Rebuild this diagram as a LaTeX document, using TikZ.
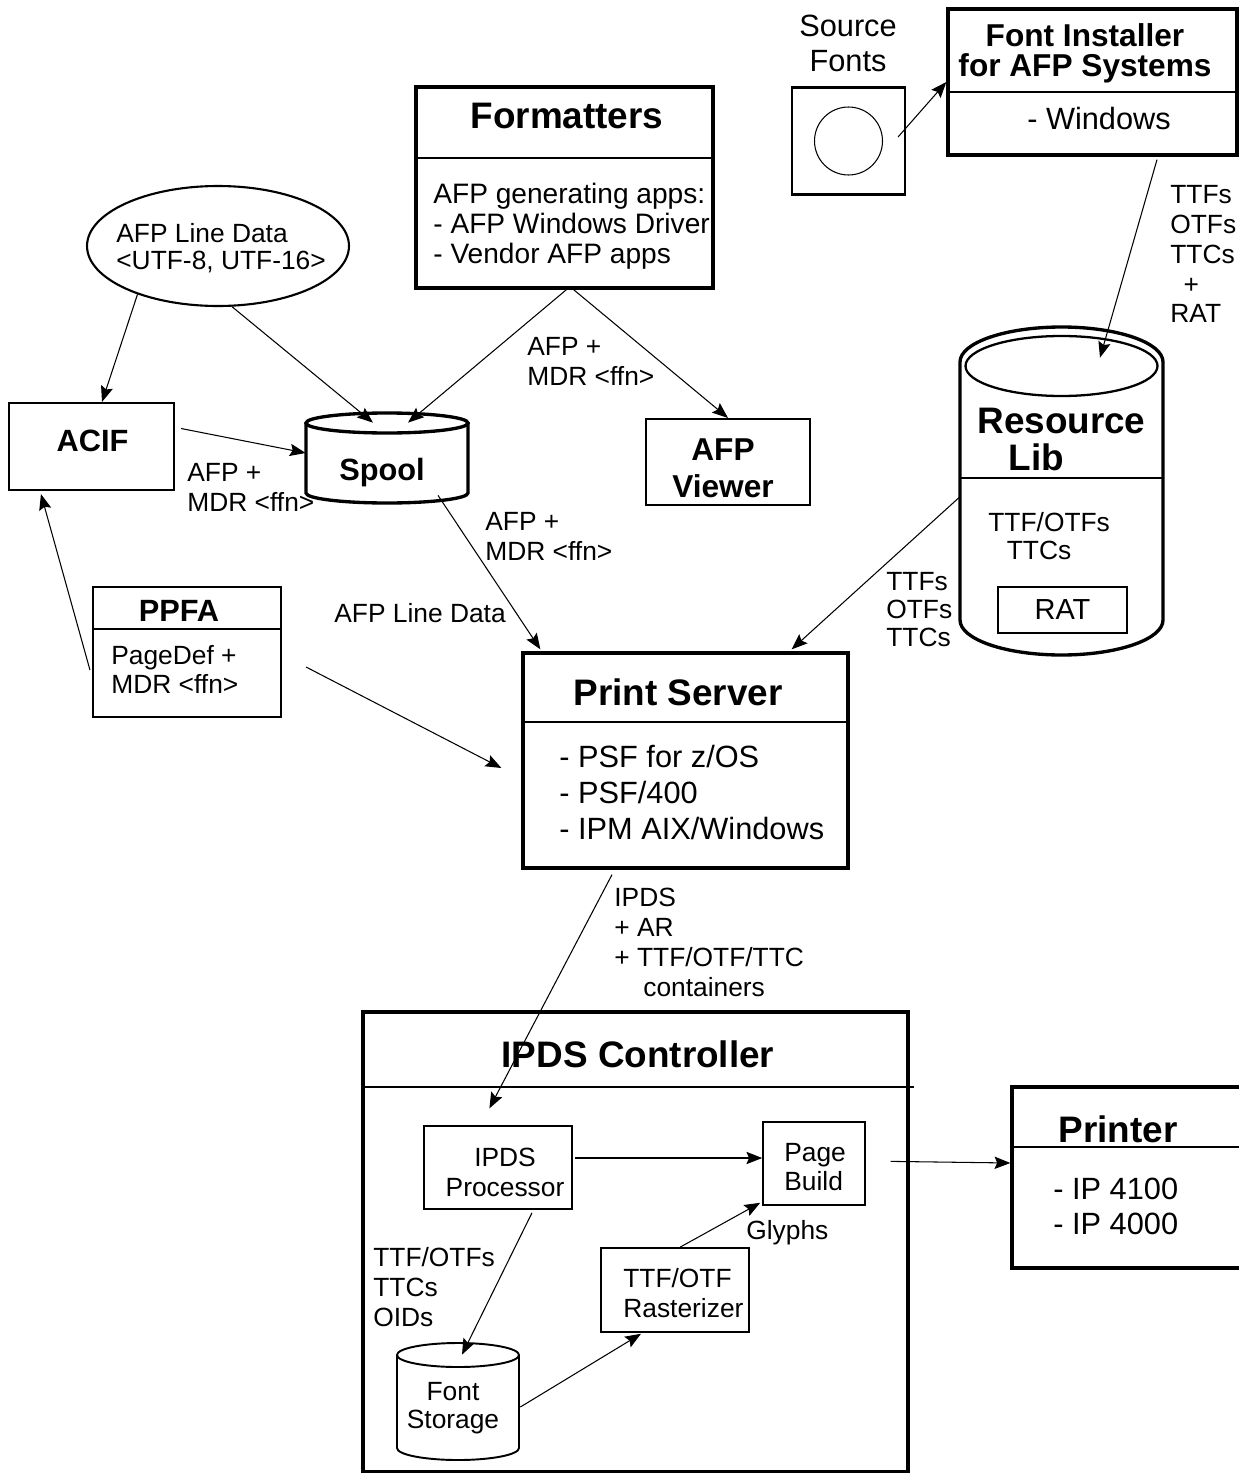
\documentclass[tikz,border=0pt]{standalone}
\usepackage{fontspec}
\setmainfont{Liberation Sans}
\usetikzlibrary{arrows.meta, calc, shapes.geometric}
\tikzset{
    >={Stealth[length=9pt, width=7pt, inset=1.5pt]}, % filled arrow heads
    heavybox/.style={draw, line width=1.9pt, inner sep=0pt}, % thick frames
    normbox/.style={draw, line width=1.2pt, inner sep=0pt}, % ordinary frames
    smallbox/.style={draw, line width=0.9pt, inner sep=0pt}, % boxes inside the controller
    divider/.style={line width=0.6pt}, % line below a title
    drum/.style={line width=1.9pt}, % outline of a storage drum
    flow/.style={->, line width=0.6pt}, % the data flows
    bigtitle/.style={font=\bfseries\fontsize{21}{24}\selectfont, inner sep=0pt, anchor=north},
    midtitle/.style={font=\bfseries\fontsize{17.5}{20}\selectfont, inner sep=0pt, anchor=north, align=center},
    note/.style={font=\fontsize{15}{17}\selectfont, inner sep=0pt, anchor=north west, align=left},
    listing/.style={font=\fontsize{17.5}{20.5}\selectfont, inner sep=0pt, anchor=north west, align=left},
}
\begin{document}
\begin{tikzpicture}[x=0.02cm, y=-0.02cm]
\path[fill=white, use as bounding box] (0,0) rectangle (1238,1473);

\node[normbox, minimum width=2.26cm, minimum height=2.14cm] (srcbox) at (848.5,141) {};
\node[draw, circle, line width=0.6pt, minimum size=1.36cm, inner sep=0pt] (srcdisc) at (srcbox) {};
\node[font=\fontsize{17.5}{20}\selectfont, inner sep=0pt, anchor=north, align=center] (srctext) at (848,15) {Source\\Fonts};
\node[heavybox, minimum width=5.78cm, minimum height=2.92cm] (inst) at (1092.5,82) {};
\draw[divider] (inst.west |- 0,92) -- (inst.east |- 0,92);
\node[midtitle, font=\bfseries\fontsize{18}{17}\selectfont] (insttitle) at (1085,23) {Font Installer\\for AFP Systems};
\node[listing, anchor=north] (instbody) at (1099,107) {- Windows};

\node[heavybox, minimum width=5.94cm, minimum height=4.02cm] (fmt) at (564.5,187.5) {};
\draw[divider] (fmt.west |- 0,158) -- (fmt.east |- 0,158);
\node[bigtitle] (fmttitle) at (567,103) {Formatters};
\node[note, font=\fontsize{16}{17}\selectfont] (fmtbody) at (433,183) {AFP generating apps:\\- AFP Windows Driver\\- Vendor AFP apps};

\node[normbox, minimum width=3.28cm, minimum height=1.72cm] (viewer) at (728,462) {};
\node[midtitle, font=\bfseries\fontsize{18}{21}\selectfont] (viewertext) at (723,438) {AFP\\Viewer};

\node[normbox, ellipse, minimum width=5.24cm, minimum height=2.4cm] (afpline) at (218,246) {};
\node[note, font=\fontsize{15}{15.5}\selectfont] (afplinetext) at (116,223) {AFP Line Data\\<UTF-8, UTF-16>};

\node[normbox, minimum width=3.3cm, minimum height=1.74cm] (acif) at (91.5,446.5) {};
\node[midtitle] (aciftext) at (92.5,430) {ACIF};

\node[minimum width=3.24cm, minimum height=1.8cm] (spool) at (387,458) {};
\draw[drum] (306,423) -- (306,493) arc (180:0:81 and 10) -- (468,423);
\draw[drum] (387,423) ellipse (81 and 10);
\node[midtitle] (spooltext) at (382,458) {Spool};

\node[normbox, minimum width=3.76cm, minimum height=2.6cm] (ppfa) at (187,652) {};
\draw[divider] (ppfa.west |- 0,629) -- (ppfa.east |- 0,629);
\node[midtitle] (ppfatitle) at (179,600) {PPFA};
\node[note, font=\fontsize{15}{16.5}\selectfont] (ppfabody) at (111,645) {PageDef +\\MDR <ffn>};

\node[minimum width=4.06cm, minimum height=6.56cm] (reslib) at (1061.5,491) {};
\draw[drum] (960,362) -- (960,620) arc (180:0:101.5 and 35) -- (1163,362) arc (0:-180:101.5 and 35);
\draw[line width=1.3pt] (1061.5,366) ellipse (96 and 30);
\draw[divider] (reslib.west |- 0,478) -- (reslib.east |- 0,478);
\node[bigtitle, anchor=north west, align=left, font=\bfseries\fontsize{21}{21}\selectfont] (reslibtitle) at (977,408) {Resource\\\hspace*{0.85em}Lib};
\node[note, font=\fontsize{15}{16}\selectfont] (reslibbody) at (988,512) {TTF/OTFs\\\hspace*{0.7em}TTCs};
\node[smallbox, minimum width=2.58cm, minimum height=0.92cm, font=\fontsize{16.5}{18}\selectfont] (rat) at (1062.5,610) {RAT};

\node[heavybox, minimum width=6.5cm, minimum height=4.3cm] (ps) at (685.5,760.5) {};
\draw[divider] (ps.west |- 0,722) -- (ps.east |- 0,722);
\node[bigtitle] (pstitle) at (678,678) {Print Server};
\node[listing] (psbody) at (559,745) {- PSF for z/OS\\- PSF/400\\- IPM AIX/Windows};

\node[heavybox, minimum width=10.9cm, minimum height=9.2cm] (ctrl) at (635.5,1242) {};
\draw[divider] (ctrl.west |- 0,1087) -- ($(ctrl.east |- 0,1087)+(4,0)$);
\node[bigtitle] (ctrltitle) at (638,1040) {IPDS Controller};
\node[smallbox, minimum width=2.96cm, minimum height=1.66cm] (ipdsp) at (498,1167.5) {};
\node[note, anchor=north, align=center] (ipdsptext) at (505,1148) {IPDS\\Processor};
\node[smallbox, minimum width=2.04cm, minimum height=1.66cm] (pgbuild) at (814,1163.5) {};
\node[note, font=\fontsize{15}{16.5}\selectfont] (pgbuildtext) at (784,1143) {Page\\Build};
\node[smallbox, minimum width=2.96cm, minimum height=1.68cm] (raster) at (675,1290) {};
\node[note] (rastertext) at (623,1268) {TTF/OTF\\Rasterizer};
\node[minimum width=2.44cm, minimum height=2.34cm] (fontstore) at (458,1401.5) {};
\draw[line width=1.1pt] (397,1355) -- (397,1448) arc (180:0:61 and 12) -- (519,1355);
\draw[line width=1.1pt] (458,1355) ellipse (61 and 12);
\node[note, anchor=north, align=center, font=\fontsize{15}{16}\selectfont] (fontstoretext) at (453,1382) {Font\\Storage};

\node[heavybox, minimum width=4.76cm, minimum height=3.62cm] (printer) at (1131,1177.5) {};
\draw[divider] (printer.west |- 0,1147) -- (printer.east |- 0,1147);
\node[bigtitle] (printertitle) at (1118,1115) {Printer};
\node[listing, font=\fontsize{17.5}{20}\selectfont] (printerbody) at (1053,1178) {- IP 4100\\- IP 4000};

\node[note] (installflow) at (1170,185) {TTFs\\OTFs\\TTCs\\\hspace*{0.5em}+\\RAT};
\node[note] (fmtflow) at (527,337) {AFP +\\MDR <ffn>};
\node[note] (acifflow) at (187,463) {AFP +\\MDR <ffn>};
\node[note] (spoolflow) at (485,512) {AFP +\\MDR <ffn>};
\node[note] (lineflow) at (334,603) {AFP Line Data};
\node[note, font=\fontsize{15}{16}\selectfont] (libflow) at (886,572) {TTFs\\OTFs\\TTCs};
\node[note] (ipdsflow) at (614,888) {IPDS\\+ AR\\+ TTF/OTF/TTC\\\hspace*{1.1em}containers};
\node[note] (glyphflow) at (746,1220) {Glyphs};
\node[note] (storeflow) at (373,1247) {TTF/OTFs\\TTCs\\OIDs};

\draw[flow] ($(srcbox.east)+(-8,-4)$) -- (inst.west);
\draw[flow] ($(inst.south)+(64.5,3)$) -- ($(reslib.north)+(38.5,31)$);
\draw[flow] ($(fmt.south)+(5.5,-3)$) -- ($(spool.north)+(21,10)$);
\draw[flow] ($(fmt.south)+(5.5,-3)$) -- (viewer.north);
\draw[flow] (afpline.211) -- ($(acif.north)+(10.5,0)$);
\draw[flow] (afpline.283) -- ($(spool.north)+(-14,10)$);
\draw[flow] ($(acif.east)+(6,-18)$) -- ($(spool.west)+(0,-5)$);
\draw[flow] ($(ppfa.west)+(-2,18)$) -- ($(acif.south west)+(33,3)$);
\draw[flow] ($(ppfa.east)+(24,15)$) -- ($(ps.west)+(-20,7.5)$);
\draw[flow] ($(spool.south)+(51,-8)$) -- ($(ps.north west)+(19,-2)$);
\draw[flow] ($(reslib.west)+(0,6)$) -- ($(ps.north east)+(-58,-2)$);
\draw[flow] ($(ps.south)+(-73.5,5)$) -- ($(ctrl.north west)+(128,98)$);
\draw[flow] ($(ipdsp.east)+(2,-9.5)$) -- ($(pgbuild.west)+(0,-5.5)$);
\draw[flow] ($(ipdsp.south)+(34,3)$) -- ($(fontstore.north)+(4,12)$);
\draw[flow] ($(fontstore.east)+(1,5.5)$) -- ($(raster.south)+(-34,1)$);
\draw[flow] ($(raster.north)+(5,0)$) -- ($(pgbuild.south west)+(-2,-3)$);
\draw[flow] ($(ctrl.north east)+(-19,151)$) -- ($(printer.west)+(0,-14.5)$);
\end{tikzpicture}
\end{document}
